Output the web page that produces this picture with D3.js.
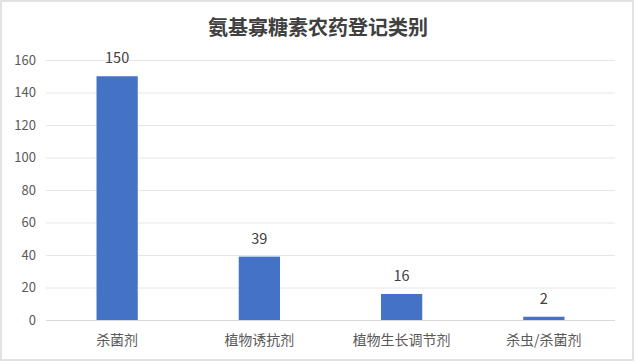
<!DOCTYPE html>
<html>
<head>
<meta charset="utf-8">
<script src="https://cdn.jsdelivr.net/npm/d3@7"></script>
<style>
    body { margin: 0; background: #fff; }
    svg { display: block; }
</style>
</head>
<body>
<div id="chart"></div>
<script>
const categories = ['杀菌剂', '植物诱抗剂', '植物生长调节剂', '杀虫/杀菌剂']
const counts = [150, 39, 16, 2]
const yTicks = [0, 20, 40, 60, 80, 100, 120, 140, 160]
const title = '氨基寡糖素农药登记类别'

const width = 635,
    height = 362
const margin = {top: 60, right: 20, bottom: 42, left: 46}
const font = '"Noto Sans CJK SC", "Noto Sans", sans-serif'

const svg = d3.select('#chart').append('svg')
    .attr('width', width)
    .attr('height', height)

// chart border
svg.append('rect')
    .attr('x', 1).attr('y', 1)
    .attr('width', width - 3).attr('height', height - 3)
    .attr('fill', '#fff')
    .attr('stroke', '#d9d9d9')
    .attr('stroke-width', 1.5)

const x = d3.scaleBand()
    .domain(categories)
    .range([margin.left, 615])
    .paddingInner(0.71)
    .paddingOuter(0.355)

const y = d3.scaleLinear()
    .domain([0, 160])
    .range([320, margin.top])

// gridlines
svg.append('g')
    .selectAll('line')
    .data(yTicks)
    .enter().append('line')
    .attr('x1', margin.left)
    .attr('x2', 615)
    .attr('y1', d => y(d) + 0.5)
    .attr('y2', d => y(d) + 0.5)
    .attr('stroke', d => d === 0 ? '#d9d9d9' : '#e6e6e6')
    .attr('stroke-width', 1)

// y axis labels
const yAxis = svg.append('g')
    .attr('transform', `translate(${margin.left - 10},0)`)
    .call(d3.axisLeft(y).tickValues(yTicks).tickSize(0).tickPadding(0))
yAxis.select('.domain').remove()
yAxis.selectAll('text')
    .attr('fill', '#595959')
    .style('font-family', font)
    .style('font-size', '13px')

// x axis labels
const xAxis = svg.append('g')
    .attr('transform', 'translate(0,320)')
    .call(d3.axisBottom(x).tickSize(0).tickPadding(15))
xAxis.select('.domain').remove()
xAxis.selectAll('text')
    .attr('fill', '#595959')
    .style('font-family', font)
    .style('font-size', '14px')

// bars
svg.append('g')
    .selectAll('rect')
    .data(counts)
    .enter().append('rect')
    .attr('x', (d, i) => x(categories[i]))
    .attr('y', d => y(d))
    .attr('width', x.bandwidth())
    .attr('height', d => y(0) - y(d))
    .attr('fill', '#4472c4')

// value labels
svg.append('g')
    .selectAll('text')
    .data(counts)
    .enter().append('text')
    .attr('x', (d, i) => x(categories[i]) + x.bandwidth() / 2)
    .attr('y', d => y(d) - 13)
    .attr('text-anchor', 'middle')
    .attr('fill', '#404040')
    .style('font-family', font)
    .style('font-size', '14.5px')
    .text(d => d)

svg.append('text')
    .attr('x', 318)
    .attr('y', 35)
    .attr('text-anchor', 'middle')
    .attr('fill', '#404040')
    .style('font-family', font)
    .style('font-size', '20px')
    .style('font-weight', 'bold')
    .text(title)
</script>
</body>
</html>
